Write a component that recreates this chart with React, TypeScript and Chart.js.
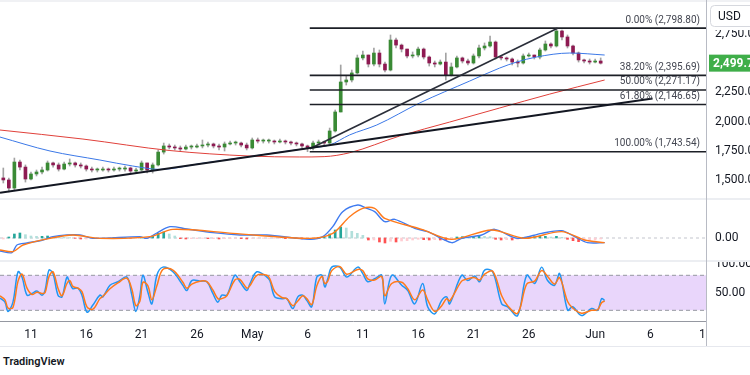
import React, { useEffect, useRef } from "react";
import { Chart, registerables } from "chart.js";

Chart.register(...registerables);

// ---------- time axis (days since 1 April) ----------
const X_MIN = 7.2;
const X_MAX = 71.02;
const tickDays = [10, 15, 20, 25, 30, 35, 40, 45, 50, 55, 61, 66, 71];
const tickLabels = ["11", "16", "21", "26", "May", "6", "11", "16", "21", "26", "Jun", "6", "11"];

// ---------- 12h candles ----------
const candleStartDay = 7.5;
const candleStepDays = 0.5;
const firstOpen = 1520;
const closes = [
  1503, 1434, 1656, 1613, 1511, 1554, 1571, 1588, 1648, 1631,
  1596, 1639, 1648, 1631, 1622, 1596, 1588, 1588, 1596, 1588,
  1596, 1596, 1605, 1579, 1588, 1648, 1588, 1631, 1741, 1793,
  1784, 1776, 1767, 1784, 1784, 1793, 1801, 1810, 1793, 1784,
  1810, 1818, 1818, 1801, 1776, 1844, 1835, 1835, 1835, 1827,
  1835, 1827, 1818, 1810, 1793, 1776, 1818, 1827, 1818, 1921,
  2083, 2339, 2356, 2416, 2544, 2569, 2492, 2586, 2492, 2441,
  2697, 2654, 2620, 2561, 2569, 2620, 2552, 2501, 2492, 2509,
  2398, 2467, 2544, 2518, 2501, 2561, 2629, 2646, 2680, 2552,
  2544, 2535, 2509, 2501, 2561, 2569, 2552, 2612, 2663, 2646,
  2774, 2723, 2646, 2586, 2527, 2518, 2509, 2518, 2499.7,
];
const highs = [
  1605, 1520, 1690, 1673, 1631, 1571, 1588, 1613, 1665, 1656,
  1648, 1656, 1682, 1656, 1648, 1631, 1613, 1605, 1613, 1605,
  1613, 1613, 1622, 1613, 1605, 1665, 1648, 1648, 1759, 1818,
  1810, 1801, 1793, 1801, 1801, 1810, 1844, 1827, 1818, 1810,
  1827, 1835, 1835, 1827, 1818, 1861, 1861, 1852, 1852, 1844,
  1852, 1844, 1835, 1827, 1818, 1801, 1835, 1844, 1835, 1946,
  2100, 2484, 2390, 2441, 2569, 2603, 2569, 2629, 2612, 2509,
  2740, 2714, 2663, 2620, 2595, 2637, 2629, 2561, 2518, 2527,
  2586, 2501, 2561, 2552, 2535, 2578, 2654, 2672, 2731, 2689,
  2561, 2552, 2544, 2527, 2578, 2586, 2569, 2629, 2689, 2672,
  2799, 2782, 2740, 2654, 2595, 2535, 2535, 2535, 2544,
];
const lows = [
  1477, 1400, 1417, 1588, 1485, 1503, 1537, 1554, 1579, 1613,
  1579, 1588, 1622, 1613, 1605, 1579, 1571, 1571, 1579, 1571,
  1579, 1579, 1579, 1562, 1562, 1579, 1562, 1562, 1622, 1724,
  1767, 1759, 1750, 1759, 1767, 1776, 1776, 1784, 1776, 1759,
  1750, 1801, 1801, 1784, 1759, 1767, 1818, 1818, 1818, 1810,
  1818, 1810, 1801, 1793, 1776, 1744, 1759, 1801, 1801, 1810,
  1912, 2083, 2313, 2339, 2407, 2527, 2467, 2475, 2467, 2424,
  2433, 2629, 2595, 2544, 2544, 2552, 2535, 2475, 2467, 2484,
  2356, 2390, 2458, 2501, 2484, 2492, 2544, 2612, 2637, 2535,
  2527, 2518, 2484, 2467, 2492, 2552, 2535, 2535, 2603, 2629,
  2637, 2697, 2629, 2569, 2509, 2501, 2492, 2501, 2492,
];

// ---------- moving averages ----------
const maFastDays = [7.2, 11.72, 16.23, 19.2, 21.65, 25.27, 29.78, 35.2, 37.0, 38.8, 41.26, 45.14, 49.66, 52.37, 53.9, 55.7, 58.7, 61.86];
const maFast = [1869, 1750, 1673, 1622, 1593, 1642, 1703, 1776, 1801, 1887, 1972, 2160, 2347, 2458, 2509, 2552, 2586, 2569];
const maSlowDays = [7.2, 14.7, 22.56, 29.78, 34.3, 36.5, 38.8, 43.33, 47.85, 52.37, 56.9, 61.86];
const maSlow = [1929, 1852, 1754, 1707, 1699, 1702, 1735, 1878, 1997, 2117, 2236, 2356];

// ---------- trend lines & fibonacci ----------
const trendADays = [7.2, 66.19];
const trendAValues = [1394, 2198];
const trendBDays = [35.2, 57.6];
const trendBValues = [1770, 2797];
const fibStartDay = 35.2;
const fibPcts = [0, 38.2, 50, 61.8, 100];
const fibPrices = [2798.8, 2395.69, 2271.17, 2146.65, 1743.54];

// ---------- MACD ----------
const macdHist = [
  -3, 3, 12, 15, 10, 6, 5, 5, 6, 4,
  3, 2, 1, -1, -3, -3, -2, -1, -1, -1,
  1, -1, 1, -1, -1, 2, -1, 5, 14, 18,
  12, 6, -2, -3, -2, -2, -1, -2, -2, -3,
  -2, -2, -1, -2, -3, -1, -1, -1, -1, -1,
  -1, -2, -1, -2, -3, -3, -1, 2, 3, 12,
  24, 33, 30, 20, 14, 8, -6, -6, -12, -15,
  -10, -12, -9, -8, -6, -4, -5, -6, -5, -6,
  -7, -4, 3, 4, 3, 4, 6, 5, 4, -4,
  -6, -5, -6, -4, 2, 4, 4, 5, 5, 3,
  5, 2, -4, -8, -11, -9, -7, -6, -3,
];
const macdDays = [7.2, 8.28, 8.73, 9.64, 11.08, 11.99, 13.25, 14.43, 15.6, 19.85, 20.48, 21.38, 22.56, 24.1, 26.44, 28.88, 31.32, 35.2, 36.38, 37.28, 38.18, 39.54, 40.35, 41.07, 41.98, 42.88, 44.69, 45.86, 48.03, 48.93, 50.74, 51.91, 53.99, 56.16, 57.97, 59.14, 60.31, 61.86];
const macdLine = [-39, -44, -21, -15, -6, 4, 9, 9, -1, 4, -1, 15, 34, 27, 16, 9, 9, -4, 4, 34, 79, 99, 89, 79, 49, 56, 29, 19, -14, -1, 9, 26, -1, 14, 22, 4, -14, -14];
const signalDays = [7.2, 8.37, 9.28, 11.72, 13.8, 16.23, 20.75, 22.83, 28.24, 35.2, 37.28, 38.8, 39.99, 41.07, 41.98, 45.32, 48.03, 51.64, 54.62, 57.97, 60.05, 61.86];
const signalLine = [-36, -41, -21, -1, 9, -1, 4, 26, 14, -1, 14, 64, 89, 89, 59, 26, -4, 24, -1, 19, -6, -14];

// ---------- Stoch RSI ----------
const stochDays = [
  7.2, 7.65, 7.92, 8.37, 8.83, 9.19, 9.64, 10.09, 10.54, 10.99,
  11.27, 11.63, 11.99, 12.44, 12.8, 13.25, 13.52, 13.79, 14.24, 14.61,
  15.06, 15.6, 16.23, 16.5, 17.14, 17.86, 18.67, 19.12, 19.48, 19.85,
  20.12, 20.57, 20.93, 21.38, 21.92, 22.83, 23.73, 24.09, 24.54, 25.27,
  25.9, 26.44, 26.89, 27.25, 27.71, 28.43, 28.88, 29.51, 29.78, 30.42,
  31.32, 31.59, 32.04, 32.67, 33.13, 33.67, 34.12, 34.57, 34.93, 35.38,
  35.84, 36.29, 36.56, 36.83, 37.19, 37.91, 38.55, 39.54, 39.99, 40.44,
  41.07, 41.71, 41.98, 42.61, 43.51, 44.06, 44.69, 45.41, 45.86, 46.5,
  47.13, 47.58, 47.85, 48.93, 49.48, 50.11, 50.56, 51.01, 51.74, 52.55,
  53.09, 53.99, 54.81, 55.53, 56.16, 56.7, 57.33, 57.79, 58.51, 58.96,
  59.77, 60.68, 61.22, 61.58, 61.86,
];
const stochK = [
  41, 34, 18, 34, 86, 77, 46, 49, 53, 46,
  54, 89, 83, 46, 43, 77, 66, 57, 58, 46,
  17, 29, 46, 43, 63, 69, 77, 46, 18, 46,
  80, 51, 31, 80, 94, 86, 63, 54, 71, 70,
  69, 49, 34, 46, 46, 80, 69, 54, 65, 86,
  77, 71, 43, 40, 40, 23, 43, 46, 37, 26,
  77, 80, 60, 74, 94, 94, 77, 94, 83, 69,
  74, 80, 31, 80, 63, 54, 31, 66, 26, 14,
  37, 43, 31, 80, 71, 79, 69, 89, 86, 31,
  26, 11, 80, 66, 94, 71, 63, 83, 20, 26,
  11, 23, 20, 40, 37,
];
const stochD = [
  45, 38, 24, 25, 70, 82, 58, 47, 51, 49,
  50, 78, 86, 58, 45, 66, 71, 61, 58, 52,
  26, 22, 40, 44, 57, 67, 75, 56, 28, 36,
  68, 62, 38, 62, 90, 89, 68, 58, 65, 70,
  69, 55, 40, 40, 45, 72, 73, 58, 62, 80,
  80, 74, 52, 42, 40, 28, 36, 45, 40, 30,
  62, 78, 66, 70, 88, 95, 82, 90, 88, 74,
  72, 78, 45, 66, 68, 57, 38, 55, 38, 18,
  28, 40, 36, 70, 74, 76, 72, 82, 87, 45,
  28, 15, 65, 70, 88, 78, 65, 76, 35, 24,
  15, 20, 21, 33, 36,
];
const stochUpper = 80;
const stochLower = 20;

const priceTicks = [1500, 1750, 2000, 2250, 2500, 2750];
const macdTicks = [0];
const stochTicks = [50, 100];

// ---------- styling ----------
const FONT = "Roboto, 'Noto Sans', sans-serif";
const TEXT = "#131722";
const UP = "#3a8a35";
const DOWN = "#8e1a52";
const WICK = "#a3a3a3";
const AXIS_W = 44;

const fmt = (v: number, d = 2) =>
  v.toLocaleString("en-US", { minimumFractionDigits: d, maximumFractionDigits: d });
const candleDay = (i: number) => candleStartDay + i * candleStepDays;

const baseOptions = (): any => ({
  responsive: false,
  maintainAspectRatio: false,
  animation: false,
  devicePixelRatio: 1,
  events: [],
  layout: { padding: 0 },
  plugins: { legend: { display: false }, tooltip: { enabled: false } },
});

const makeX = (show: boolean): any => ({
  type: "linear",
  min: X_MIN,
  max: X_MAX,
  offset: false,
  display: show,
  grid: { display: false, drawTicks: false, offset: false },
  border: { display: show, color: "#9598a1", width: 1 },
  ticks: {
    autoSkip: false,
    maxRotation: 0,
    padding: 7,
    color: TEXT,
    font: { size: 12, family: FONT },
    callback: (_v: any, i: number) => tickLabels[i],
  },
  afterBuildTicks: (s: any) => {
    s.ticks = tickDays.map((v) => ({ value: v }));
  },
  afterFit: (s: any) => {
    s.height = show ? 25 : 0;
    s.paddingLeft = 0;
    s.paddingRight = 0;
  },
});

const makeY = (min: number, max: number, ticks: number[]): any => ({
  type: "linear",
  position: "right",
  min,
  max,
  grid: { display: false, drawTicks: false },
  border: { display: false },
  ticks: {
    autoSkip: false,
    padding: 9,
    color: TEXT,
    font: { size: 12, family: FONT },
    callback: (v: any) => fmt(Number(v)),
  },
  afterBuildTicks: (s: any) => {
    s.ticks = ticks.map((v) => ({ value: v }));
  },
  afterFit: (s: any) => {
    s.width = AXIS_W;
    s.paddingTop = 0;
    s.paddingBottom = 0;
  },
});

const line = (xs: number[], ys: number[], color: string, width: number, extra: any = {}): any => ({
  type: "line",
  data: xs.map((x, i) => ({ x, y: ys[i] })),
  borderColor: color,
  borderWidth: width,
  pointRadius: 0,
  fill: false,
  ...extra,
});

function mainConfig(): any {
  const opens = closes.map((_c, i) => (i === 0 ? firstOpen : closes[i - 1]));
  const colors = closes.map((c, i) => (c >= opens[i] ? UP : DOWN));
  const overlay = {
    id: "mainOverlay",
    afterDraw(chart: any) {
      const ctx = chart.ctx;
      const y = chart.scales.y;
      const a = chart.chartArea;
      ctx.save();
      ctx.font = `10px ${FONT}`;
      ctx.fillStyle = "#434651";
      ctx.textAlign = "right";
      ctx.textBaseline = "bottom";
      fibPrices.forEach((p, i) => {
        ctx.fillText(`${fmt(fibPcts[i])}% (${fmt(p)})`, a.right - 6, y.getPixelForValue(p) - 3);
      });
      const last = closes[closes.length - 1];
      const py = y.getPixelForValue(last);
      ctx.fillStyle = "#3fae49";
      ctx.fillRect(a.right + 3, py - 8.5, 50, 17);
      ctx.fillStyle = "#ffffff";
      ctx.font = `bold 12px ${FONT}`;
      ctx.textAlign = "left";
      ctx.textBaseline = "middle";
      ctx.fillText(fmt(last), a.right + 7, py + 0.5);
      // currency box
      ctx.fillStyle = "#ffffff";
      ctx.fillRect(a.right + 1, 0, 50, 30);
      ctx.strokeStyle = "#d6d8de";
      ctx.lineWidth = 1;
      ctx.beginPath();
      ctx.roundRect(a.right + 4.5, 5.5, 50, 21, 4);
      ctx.stroke();
      ctx.fillStyle = TEXT;
      ctx.font = `12px ${FONT}`;
      ctx.fillText("USD", a.right + 12, 16.5);
      ctx.restore();
    },
  };
  return {
    type: "bar",
    data: {
      datasets: [
        ...fibPrices.map((p) => line([fibStartDay, X_MAX], [p, p], "#1c1f26", 1.6, { order: 1 })),
        line(trendADays, trendAValues, "#131722", 2, { order: 0 }),
        line(trendBDays, trendBValues, "#2a2e39", 1.6, { order: 0 }),
        line(maSlowDays, maSlow, "#e0403a", 1, { order: 2, cubicInterpolationMode: "monotone" }),
        line(maFastDays, maFast, "#3b78e7", 1, { order: 2, cubicInterpolationMode: "monotone" }),
        {
          type: "bar",
          data: closes.map((c, i) => ({ x: candleDay(i), y: [opens[i], c] })),
          backgroundColor: colors,
          barThickness: 3,
          minBarLength: 1,
          grouped: false,
          order: 3,
        },
        {
          type: "bar",
          data: highs.map((h, i) => ({ x: candleDay(i), y: [lows[i], h] })),
          backgroundColor: WICK,
          barThickness: 1,
          grouped: false,
          order: 4,
        },
      ],
    },
    options: {
      ...baseOptions(),
      scales: { x: makeX(false), y: makeY(1349, 3038.5, priceTicks) },
    },
    plugins: [overlay],
  };
}

function macdConfig(): any {
  const colors = macdHist.map((v, i) => {
    const prev = i === 0 ? v : macdHist[i - 1];
    if (v >= 0) return v >= prev ? "#26a69a" : "#b2dfdb";
    return v < prev ? "#ff5252" : "#ffcdd2";
  });
  return {
    type: "bar",
    data: {
      datasets: [
        line(signalDays, signalLine, "#ff7a1a", 1.4, { order: 0, tension: 0.3 }),
        line(macdDays, macdLine, "#3f7bf0", 1.4, { order: 1, tension: 0.3 }),
        {
          type: "bar",
          data: macdHist.map((v, i) => ({ x: candleDay(i), y: v })),
          backgroundColor: colors,
          barThickness: 2,
          grouped: false,
          order: 5,
        },
        line([X_MIN, X_MAX], [0, 0], "#c3c6ce", 1, { order: 6, borderDash: [3, 3] }),
      ],
    },
    options: {
      ...baseOptions(),
      scales: { x: makeX(false), y: makeY(-66, 114, macdTicks) },
    },
  };
}

function stochConfig(): any {
  const mask = {
    id: "axisMask",
    afterDraw(chart: any) {
      const a = chart.chartArea;
      const ctx = chart.ctx;
      ctx.save();
      ctx.fillStyle = "#ffffff";
      ctx.fillRect(a.right + 1, a.bottom + 1, 60, 40);
      ctx.restore();
    },
  };
  return {
    type: "line",
    data: {
      datasets: [
        line([X_MIN, X_MAX], [stochUpper, stochUpper], "#9598a1", 1, { order: 5, borderDash: [4, 3] }),
        line([X_MIN, X_MAX], [stochLower, stochLower], "#9598a1", 1, {
          order: 6,
          borderDash: [4, 3],
          fill: "-1",
          backgroundColor: "#e9d6fb",
        }),
        line(stochDays, stochK, "#2196f3", 1.5, { order: 1, tension: 0.35 }),
        line(stochDays, stochD, "#ff7a1a", 1.5, { order: 0, tension: 0.35 }),
      ],
    },
    options: {
      ...baseOptions(),
      scales: { x: makeX(true), y: makeY(1.7, 102.8, stochTicks) },
    },
    plugins: [mask],
  };
}

export default function App() {
  const mainRef = useRef<HTMLCanvasElement>(null);
  const macdRef = useRef<HTMLCanvasElement>(null);
  const stochRef = useRef<HTMLCanvasElement>(null);

  useEffect(() => {
    const charts = [
      new Chart(mainRef.current as HTMLCanvasElement, mainConfig()),
      new Chart(macdRef.current as HTMLCanvasElement, macdConfig()),
      new Chart(stochRef.current as HTMLCanvasElement, stochConfig()),
    ];
    return () => charts.forEach((c) => c.destroy());
  }, []);

  const abs = (s: any): any => ({ position: "absolute", ...s });

  return (
    <div style={abs({ left: 0, top: 0, width: 750, height: 375, background: "#fff", overflow: "hidden" })}>
      <canvas ref={mainRef} width={750} height={198} style={abs({ left: 0, top: 0, display: "block" })} />
      <canvas ref={macdRef} width={750} height={60} style={abs({ left: 0, top: 200, display: "block" })} />
      <canvas ref={stochRef} width={750} height={84} style={abs({ left: 0, top: 262, display: "block" })} />
      <div style={abs({ left: 0, top: 0, width: 750, height: 2, background: "#f0f1f4" })} />
      <div style={abs({ left: 0, top: 198, width: 750, height: 2, background: "#eceef2" })} />
      <div style={abs({ left: 0, top: 260, width: 750, height: 2, background: "#eceef2" })} />
      <div style={abs({ left: 706, top: 0, width: 1, height: 346, background: "#b8bbc4" })} />
      <div style={abs({ left: 0, top: 346, width: 750, height: 1, background: "#e6e8ee" })} />
      <div
        style={abs({
          left: 3,
          top: 355,
          fontFamily: FONT,
          fontSize: 11,
          fontWeight: 600,
          color: TEXT,
          lineHeight: "14px",
        })}
      >
        TradingView
      </div>
    </div>
  );
}
